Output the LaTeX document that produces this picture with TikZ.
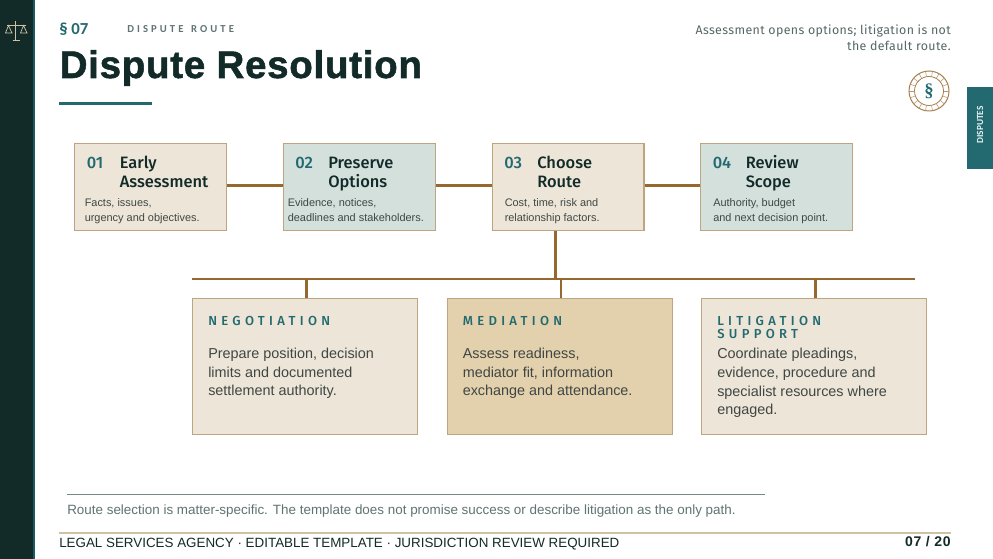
\documentclass[tikz,border=0pt]{standalone}
\usepackage{fontspec}
\setmainfont{Liberation Sans}
\newfontfamily\fira{Fira Sans}
\newfontfamily\firam{Fira Sans Medium}
\newfontfamily\carl{Carlito}
\newfontfamily\lserif{Liberation Serif}
\definecolor{darkgreen}{HTML}{122B28}
\definecolor{teal}{HTML}{226A70}
\definecolor{sand}{HTML}{EDE5D8}
\definecolor{mist}{HTML}{D3E0DC}
\definecolor{wheat}{HTML}{E3D0AC}
\definecolor{edge}{HTML}{BFA57F}
\definecolor{brown}{HTML}{96682F}
\definecolor{bodytext}{HTML}{3F4744}
\definecolor{slate}{HTML}{5F7472}
\definecolor{footline}{HTML}{CFC2A4}
\tikzset{
  card/.style={draw=edge,line width=0.9pt,anchor=north west,inner sep=0pt},
  stepcard/.style={card,minimum width=113.8pt,minimum height=65.25pt},
  optcard/.style={card,minimum width=168.8pt,minimum height=102.2pt},
  link/.style={draw=brown,line width=2.2pt},
  stub/.style={draw=brown,line width=2pt},
  txt/.style={anchor=base west,inner sep=0pt,align=left},
  num/.style={txt,font=\firam\fontsize{12.4}{15}\selectfont,text=teal},
  steptitle/.style={txt,font=\firam\fontsize{12.35}{14.3}\selectfont,text=darkgreen},
  stepbody/.style={txt,font=\fontsize{8.2}{11.4}\selectfont,text=bodytext},
  opttitle/.style={txt,font=\firam\fontsize{9.8}{10}\selectfont,text=teal},
  optbody/.style={txt,font=\fontsize{10.8}{14}\selectfont,text=bodytext},
}
\begin{document}
\begin{tikzpicture}[x=0.75pt,y=-0.75pt]
\useasboundingbox (0,0) rectangle (993,559);
\fill[white] (0,0) rectangle (993,559);
\fill[darkgreen] (0,0) rectangle (33,559);
\fill[teal!85!black] (33,0) rectangle (35,559);
% scales icon
\begin{scope}[draw=footline,line width=0.55pt]
\draw (15.8,21.5) -- (15.8,40.5) (12.5,40.5) -- (19.5,40.5) (7,25.5) -- (26,25.5);
\draw (8.5,25.5) -- (5.5,33) -- (12,33) -- cycle (23.5,25.5) -- (20.5,33) -- (27,33) -- cycle;
\end{scope}
% header
\node[txt,font=\carl\bfseries\fontsize{12.6}{15}\selectfont,text=teal] (sec) at (59,35) {§ 07};
\node[txt,font=\carl\bfseries\fontsize{8}{10}\selectfont,text=slate] (kick) at (127,32.5) {\addfontfeature{LetterSpace=29}DISPUTE\hspace{1.5pt} ROUTE};
\node[txt,font=\bfseries\fontsize{28.8}{32}\selectfont,text=darkgreen] (title) at (59.5,78) {\addfontfeature{FakeBold=1.4,LetterSpace=2}Dispute Resolution};
\fill[teal] (59,102) rectangle (152,105);
\node[anchor=base east,inner sep=0pt,align=right,font=\fira\fontsize{9.3}{12.2}\selectfont,text=slate!90!black] (sub) at (951,51) {\addfontfeature{LetterSpace=3}Assessment opens options; litigation is not\\\addfontfeature{LetterSpace=3}the default route.};
% seal
\draw[brown!85,line width=0.75pt] (929,91) circle (20);
\draw[brown!85,line width=0.6pt] (929,91) circle (14.5);
\foreach \a in {0,20,...,340}{\draw[brown!70,line width=0.4pt] (929,91) ++(\a:14.5) -- ++(\a:5.5);}
\node[font=\lserif\bfseries\fontsize{14}{14}\selectfont,text=teal,inner sep=0pt] (sect) at (929,91.5) {§};
% tab
\fill[teal] (967,87) rectangle (993,169);
\node[rotate=90,font=\carl\bfseries\fontsize{7}{8}\selectfont,text=white!90!teal,inner sep=0pt] (tab) at (980,125) {DISPUTES};
% step cards
\node[stepcard,fill=sand] (c1) at (74.2,143) {};
\node[stepcard,fill=mist] (c2) at (282.9,143) {};
\node[stepcard,fill=sand] (c3) at (491.7,143) {};
\node[stepcard,fill=mist] (c4) at (700.2,143) {};
% connectors
\coordinate (busL) at (192,279);
\coordinate (busR) at (915,279);
\path[link] ([yshift=1.5pt]c1.east) -- ([yshift=1.5pt]c2.west);
\path[link] ([yshift=1.5pt]c2.east) -- ([yshift=1.5pt]c3.west);
\path[link] ([yshift=1.5pt]c3.east) -- ([yshift=1.5pt]c4.west);
\path[stub] ([xshift=-9.6pt]c3.south) -- ([xshift=-9.6pt]c3.south |- busL);
\path[stub] (busL) -- (busR);
% option cards
\node[optcard,fill=sand] (o1) at (192,298) {};
\node[optcard,fill=wheat] (o2) at (446.5,298) {};
\node[optcard,fill=sand] (o3) at (701,298) {};
\path[stub] ([xshift=1pt]o1.north) -- ([xshift=1pt]o1.north |- busL);
\path[stub] ([xshift=1pt]o2.north) -- ([xshift=1pt]o2.north |- busL);
\path[stub] ([xshift=1pt]o3.north) -- ([xshift=1pt]o3.north |- busL);
% step text
\node[num] (n1) at (86.5,168.5) {01};
\node[steptitle] (t1) at (119.5,187.5) {Early\\Assessment};
\node[stepbody] (b1) at (84.5,221.5) {Facts, issues,\\urgency and objectives.};
\node[num] (n2) at (295,168.5) {02};
\node[steptitle] (t2) at (328,187.5) {Preserve\\Options};
\node[stepbody] (b2) at (287.5,221.5) {Evidence, notices,\\deadlines and stakeholders.};
\node[num] (n3) at (504,168.5) {03};
\node[steptitle] (t3) at (537,187.5) {Choose\\Route};
\node[stepbody] (b3) at (504.5,221.5) {Cost, time, risk and\\relationship factors.};
\node[num] (n4) at (712.5,168.5) {04};
\node[steptitle] (t4) at (745.5,187.5) {Review\\Scope};
\node[stepbody] (b4) at (713,221.5) {Authority, budget\\and next decision point.};
% option text
\node[opttitle] (h1) at (208,325.5) {\addfontfeature{LetterSpace=33}NEGOTIATION};
\node[optbody] (p1) at (208,396) {Prepare position, decision\\limits and documented\\settlement authority.};
\node[opttitle] (h2) at (462.5,325.5) {\addfontfeature{LetterSpace=33}MEDIATION};
\node[optbody] (p2) at (462.5,396) {Assess readiness,\\mediator fit, information\\exchange and attendance.};
\node[opttitle] (h3) at (717,338.5) {\addfontfeature{LetterSpace=33}LITIGATION\\\addfontfeature{LetterSpace=33}SUPPORT};
\node[optbody] (p3) at (717,414.8) {Coordinate pleadings,\\evidence, procedure and\\specialist resources where\\engaged.};
% footer
\draw[slate!85,line width=0.75pt] (67,494.3) -- (765,494.3);
\node[txt,font=\fontsize{10.07}{11}\selectfont,text=slate] (note) at (67,514.5) {Route selection is matter-specific. The template does not promise success or describe litigation as the only path.};
\draw[footline,line width=1.1pt] (59,533) -- (951,533);
\node[txt,font=\fontsize{10.04}{11}\selectfont,text=darkgreen] (foot) at (59,547) {LEGAL SERVICES AGENCY · EDITABLE TEMPLATE · JURISDICTION REVIEW REQUIRED};
\node[anchor=base east,inner sep=0pt,font=\bfseries\fontsize{10.5}{11}\selectfont,text=darkgreen] (page) at (951,546.5) {\addfontfeature{LetterSpace=5}07 / 20};
\end{tikzpicture}
\end{document}
